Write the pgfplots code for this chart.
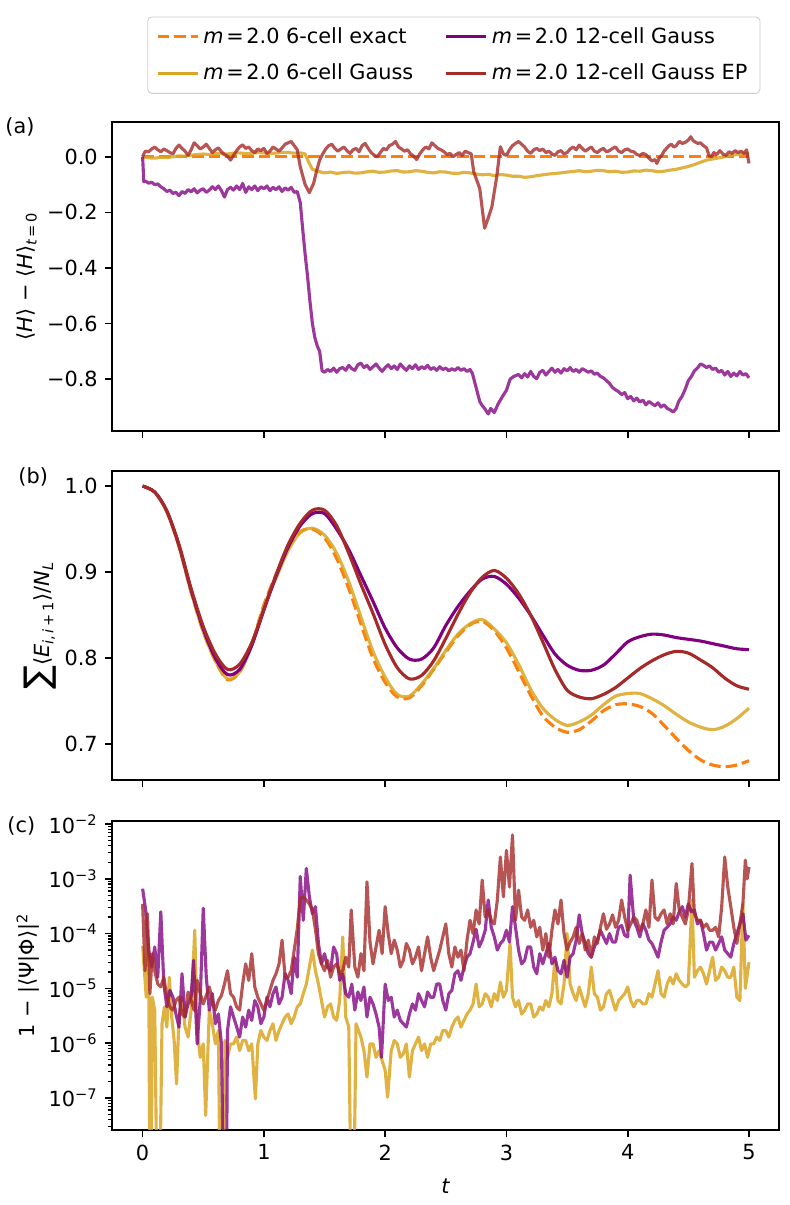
\documentclass[border=0pt]{standalone}
\usepackage{fontspec}
\setmainfont{DejaVu Sans}
\usepackage{pgfplots}
\pgfplotsset{compat=1.18}
\definecolor{cexact}{RGB}{255,127,14}
\definecolor{cgsix}{RGB}{218,165,32}
\definecolor{cgtw}{RGB}{128,0,128}
\definecolor{cep}{RGB}{165,42,42}
\newcommand{\mlab}{\textit{m}\kern1.3pt=\kern1.3pt2.0}
\pgfplotsset{
  panel/.style={
    scale only axis, width=320.16pt, height=148.3pt,
    xmin=-0.25, xmax=5.25,
    axis line style={line width=0.8pt},
    tick align=outside, xtick pos=bottom, ytick pos=left,
    major tick length=3.5pt, minor tick length=2pt,
    every major tick/.append style={line width=0.8pt, black},
    every minor tick/.append style={line width=0.6pt, black},
    tick label style={font=\fontsize{10}{12}\selectfont},
    label style={font=\fontsize{10}{12}\selectfont},
    xtick={0,1,2,3,4,5},
  },
  sexact/.style={color=cexact, line width=1.5pt, dash pattern=on 5.55pt off 2.4pt},
  sgsix/.style={color=cgsix, line width=1.5pt, draw opacity=0.85, line join=round},
  sgtw/.style={color=cgtw, line width=1.5pt, draw opacity=0.78, line join=round},
  sep/.style={color=cep, line width=1.5pt, draw opacity=0.8, line join=round},
}
\begin{document}
\begin{tikzpicture}
\useasboundingbox (0,0) rectangle (378.72pt,-578.4pt);
% ---------------- panel (a)
\begin{axis}[panel, at={(53.9pt,-58.42pt)}, anchor=north west,
  ymin=-0.985, ymax=0.126,
  xticklabels={},
  ytick={-0.8,-0.6,-0.4,-0.2,0},
  yticklabels={−0.8,−0.6,−0.4,−0.2,0.0},
  ylabel={⟨\textit{H}⟩ − ⟨\textit{H}⟩\textsubscript{\textit{t}\,=\,0}},
  ylabel style={at={(axis description cs:-0.128,0.5)}, anchor=center},
  legend columns=2,
  legend cell align=left,
  legend image code/.code={\draw[#1] (0pt,0pt) -- (19.2pt,0pt);},
  legend style={at={(0.512,1)}, anchor=south, yshift=13.4pt,
    draw=black!20, rounded corners=2pt, fill=white,
    font=\fontsize{10}{12}\selectfont, row sep=4.5pt,
    inner xsep=4pt, inner ysep=3pt,
    /tikz/every odd column/.append style={column sep=0pt},
    /tikz/every even column/.append style={column sep=13pt}},
]
\addplot[sexact, forget plot] coordinates {(0,0) (5,0)};
\addplot[sgsix, forget plot] coordinates {
(0,0) (0.05,-0.004) (0.1,-0.005) (0.15,-0.002) (0.2,-0.003) (0.25,0.0) (0.3,0.003) (0.35,0.002) (0.4,0.006) (0.45,0.008) (0.5,0.01) (0.55,0.008) (0.6,0.012) (0.65,0.011) (0.7,0.01) (0.75,0.013) (0.8,0.014) (0.85,0.011) (0.9,0.012) (0.95,0.015) (1.0,0.014) (1.05,0.012) (1.1,0.013) (1.15,0.016) (1.2,0.015) (1.25,0.013) (1.3,0.014) (1.34,0.01) (1.37,-0.02) (1.4,-0.045) (1.45,-0.053) (1.5,-0.058) (1.55,-0.055) (1.6,-0.06) (1.65,-0.057) (1.7,-0.055) (1.75,-0.059) (1.8,-0.058) (1.85,-0.054) (1.9,-0.052) (1.95,-0.056) (2.0,-0.055) (2.05,-0.051) (2.1,-0.05) (2.15,-0.055) (2.2,-0.054) (2.25,-0.05) (2.3,-0.052) (2.35,-0.056) (2.4,-0.058) (2.45,-0.054) (2.5,-0.055) (2.55,-0.059) (2.6,-0.06) (2.65,-0.056) (2.7,-0.058) (2.75,-0.062) (2.8,-0.065) (2.85,-0.063) (2.9,-0.068) (2.95,-0.064) (3.0,-0.066) (3.05,-0.07) (3.1,-0.07) (3.15,-0.074) (3.2,-0.072) (3.25,-0.068) (3.3,-0.065) (3.35,-0.062) (3.4,-0.06) (3.45,-0.058) (3.5,-0.055) (3.55,-0.053) (3.6,-0.05) (3.65,-0.054) (3.7,-0.052) (3.75,-0.049) (3.8,-0.05) (3.85,-0.054) (3.9,-0.052) (3.95,-0.056) (4.0,-0.055) (4.05,-0.051) (4.1,-0.052) (4.15,-0.048) (4.2,-0.05) (4.25,-0.054) (4.3,-0.052) (4.35,-0.048) (4.4,-0.045) (4.45,-0.04) (4.5,-0.035) (4.55,-0.028) (4.6,-0.02) (4.65,-0.012) (4.7,-0.008) (4.75,-0.004) (4.8,0.0) (4.85,0.005) (4.9,0.008) (4.95,0.01) (5.0,0.012)};
\addplot[sgtw, forget plot] coordinates {
(0,0) (0.01,-0.09) (0.025,-0.088) (0.05,-0.095) (0.075,-0.092) (0.1,-0.1) (0.125,-0.098) (0.15,-0.108) (0.175,-0.115) (0.2,-0.125) (0.225,-0.12) (0.25,-0.132) (0.275,-0.128) (0.3,-0.14) (0.325,-0.125) (0.35,-0.132) (0.375,-0.118) (0.4,-0.126) (0.425,-0.115) (0.45,-0.13) (0.475,-0.12) (0.5,-0.115) (0.525,-0.128) (0.55,-0.12) (0.575,-0.108) (0.6,-0.118) (0.625,-0.105) (0.65,-0.122) (0.675,-0.145) (0.7,-0.118) (0.725,-0.11) (0.75,-0.12) (0.775,-0.105) (0.8,-0.118) (0.825,-0.096) (0.85,-0.128) (0.875,-0.108) (0.9,-0.118) (0.925,-0.105) (0.95,-0.122) (0.975,-0.108) (1.0,-0.115) (1.025,-0.105) (1.05,-0.122) (1.075,-0.11) (1.1,-0.118) (1.125,-0.108) (1.15,-0.125) (1.175,-0.112) (1.2,-0.12) (1.225,-0.11) (1.25,-0.128) (1.275,-0.125) (1.30,-0.165) (1.32,-0.26) (1.34,-0.35) (1.36,-0.43) (1.38,-0.52) (1.40,-0.60) (1.42,-0.65) (1.44,-0.68) (1.46,-0.70) (1.48,-0.77) (1.5,-0.775) (1.525,-0.765) (1.55,-0.772) (1.575,-0.76) (1.6,-0.775) (1.625,-0.762) (1.65,-0.758) (1.675,-0.768) (1.7,-0.75) (1.725,-0.762) (1.75,-0.768) (1.775,-0.748) (1.8,-0.742) (1.825,-0.758) (1.85,-0.75) (1.875,-0.765) (1.9,-0.755) (1.925,-0.745) (1.95,-0.76) (1.975,-0.772) (2.0,-0.758) (2.025,-0.748) (2.05,-0.762) (2.075,-0.752) (2.1,-0.765) (2.125,-0.745) (2.15,-0.758) (2.175,-0.768) (2.2,-0.752) (2.225,-0.762) (2.25,-0.748) (2.275,-0.765) (2.3,-0.755) (2.325,-0.762) (2.35,-0.75) (2.375,-0.765) (2.4,-0.758) (2.425,-0.768) (2.45,-0.755) (2.475,-0.765) (2.5,-0.76) (2.525,-0.77) (2.55,-0.762) (2.575,-0.768) (2.6,-0.758) (2.625,-0.768) (2.65,-0.762) (2.675,-0.772) (2.7,-0.765) (2.72,-0.78) (2.75,-0.83) (2.78,-0.88) (2.8,-0.895) (2.82,-0.905) (2.85,-0.925) (2.87,-0.905) (2.9,-0.92) (2.93,-0.89) (2.95,-0.875) (2.97,-0.86) (3.0,-0.84) (3.03,-0.80) (3.06,-0.79) (3.1,-0.783) (3.125,-0.795) (3.15,-0.78) (3.175,-0.792) (3.2,-0.772) (3.225,-0.79) (3.25,-0.798) (3.275,-0.775) (3.3,-0.768) (3.325,-0.785) (3.35,-0.772) (3.375,-0.76) (3.4,-0.775) (3.425,-0.765) (3.45,-0.778) (3.475,-0.762) (3.5,-0.77) (3.525,-0.758) (3.55,-0.772) (3.575,-0.765) (3.6,-0.775) (3.625,-0.762) (3.65,-0.768) (3.675,-0.775) (3.7,-0.77) (3.725,-0.782) (3.75,-0.778) (3.775,-0.79) (3.8,-0.795) (3.825,-0.805) (3.85,-0.815) (3.875,-0.83) (3.9,-0.838) (3.925,-0.845) (3.95,-0.855) (3.975,-0.848) (4.0,-0.87) (4.025,-0.862) (4.05,-0.878) (4.075,-0.868) (4.1,-0.882) (4.125,-0.875) (4.15,-0.892) (4.175,-0.88) (4.2,-0.888) (4.225,-0.895) (4.25,-0.885) (4.275,-0.9) (4.3,-0.892) (4.325,-0.905) (4.35,-0.91) (4.375,-0.918) (4.4,-0.905) (4.42,-0.88) (4.45,-0.86) (4.475,-0.835) (4.5,-0.805) (4.525,-0.79) (4.55,-0.77) (4.575,-0.76) (4.6,-0.745) (4.625,-0.75) (4.65,-0.758) (4.675,-0.752) (4.7,-0.765) (4.725,-0.76) (4.75,-0.775) (4.775,-0.768) (4.8,-0.785) (4.825,-0.772) (4.85,-0.79) (4.875,-0.778) (4.9,-0.788) (4.925,-0.772) (4.95,-0.785) (4.975,-0.78) (5.0,-0.795)};
\addplot[sep, forget plot] coordinates {
(0,0) (0.015,0.015) (0.025,0.02) (0.05,0.018) (0.075,0.028) (0.1,0.035) (0.125,0.025) (0.15,0.018) (0.175,0.028) (0.2,0.022) (0.225,0.015) (0.25,0.01) (0.275,0.03) (0.3,0.042) (0.325,0.03) (0.35,0.02) (0.375,0.005) (0.4,0.025) (0.425,0.05) (0.45,0.04) (0.475,0.028) (0.5,0.035) (0.525,0.045) (0.55,0.03) (0.575,0.015) (0.6,0.025) (0.625,0.032) (0.65,0.018) (0.675,0.008) (0.7,0.002) (0.725,-0.012) (0.75,0.005) (0.775,0.022) (0.8,0.035) (0.825,0.043) (0.85,0.03) (0.875,0.035) (0.9,0.022) (0.925,0.015) (0.95,0.028) (0.975,0.022) (1.0,0.03) (1.025,0.012) (1.05,0.02) (1.075,0.035) (1.1,0.028) (1.125,0.02) (1.15,0.032) (1.175,0.045) (1.2,0.05) (1.225,0.055) (1.25,0.04) (1.275,0.025) (1.3,-0.036) (1.34,-0.10) (1.375,-0.129) (1.41,-0.096) (1.435,-0.05) (1.46,-0.012) (1.485,0.01) (1.51,0.028) (1.535,0.04) (1.56,0.045) (1.585,0.03) (1.61,0.02) (1.635,0.028) (1.66,0.035) (1.685,0.022) (1.71,0.012) (1.735,0.025) (1.76,0.03) (1.785,0.018) (1.81,0.04) (1.835,0.048) (1.86,0.03) (1.885,0.015) (1.91,0.005) (1.935,0.0) (1.96,0.015) (1.985,0.03) (2.01,0.025) (2.035,0.04) (2.06,0.045) (2.085,0.055) (2.11,0.035) (2.135,0.028) (2.16,0.02) (2.185,0.025) (2.21,0.01) (2.235,0.002) (2.26,-0.01) (2.285,0.01) (2.31,0.025) (2.335,0.035) (2.36,0.028) (2.385,0.05) (2.41,0.04) (2.435,0.03) (2.46,0.025) (2.485,0.018) (2.51,0.008) (2.535,0.012) (2.56,0.0) (2.585,0.008) (2.61,0.015) (2.635,0.005) (2.66,0.02) (2.685,0.015) (2.71,0.01) (2.73,-0.054) (2.78,-0.114) (2.82,-0.257) (2.85,-0.22) (2.88,-0.18) (2.92,-0.072) (2.95,0.036) (2.975,0.01) (3.0,0.005) (3.025,0.025) (3.05,0.04) (3.075,0.048) (3.1,0.055) (3.125,0.045) (3.15,0.035) (3.175,0.02) (3.2,0.012) (3.225,0.025) (3.25,0.03) (3.275,0.022) (3.3,0.028) (3.325,0.015) (3.35,0.02) (3.375,0.01) (3.4,0.005) (3.425,0.018) (3.45,0.022) (3.475,0.01) (3.5,0.015) (3.525,0.028) (3.55,0.035) (3.575,0.025) (3.6,0.042) (3.625,0.03) (3.65,0.02) (3.675,0.028) (3.7,0.035) (3.725,0.02) (3.75,0.015) (3.775,0.025) (3.8,0.03) (3.825,0.018) (3.85,0.022) (3.875,0.03) (3.9,0.035) (3.925,0.02) (3.95,0.015) (3.975,0.025) (4.0,0.028) (4.025,0.02) (4.05,0.018) (4.075,0.008) (4.1,0.005) (4.125,0.012) (4.15,0.008) (4.175,-0.005) (4.2,-0.015) (4.225,-0.01) (4.24,-0.024) (4.26,-0.005) (4.28,0.005) (4.3,0.02) (4.32,0.03) (4.34,0.04) (4.36,0.045) (4.38,0.035) (4.4,0.04) (4.425,0.055) (4.45,0.048) (4.475,0.052) (4.5,0.06) (4.52,0.072) (4.54,0.058) (4.56,0.052) (4.58,0.048) (4.6,0.05) (4.625,0.04) (4.65,0.032) (4.67,0.005) (4.69,0.0) (4.71,0.015) (4.735,0.008) (4.76,0.022) (4.785,0.01) (4.81,0.005) (4.835,0.018) (4.86,0.012) (4.885,0.022) (4.91,0.015) (4.935,0.02) (4.96,0.012) (4.98,0.025) (5.0,-0.024)};
\addlegendimage{sexact}
\addlegendentry{\mlab{} 6-cell exact}
\addlegendimage{sgtw, draw opacity=1}
\addlegendentry{\mlab{} 12-cell Gauss}
\addlegendimage{sgsix, draw opacity=1}
\addlegendentry{\mlab{} 6-cell Gauss}
\addlegendimage{sep, draw opacity=1}
\addlegendentry{\mlab{} 12-cell Gauss EP}
\end{axis}
% ---------------- panel (b)
\begin{axis}[panel, at={(53.9pt,-226.08pt)}, anchor=north west,
  ymin=0.6586, ymax=1.0175,
  xticklabels={},
  ytick={0.7,0.8,0.9,1.0},
  yticklabels={0.7,0.8,0.9,1.0},
  ylabel={{\fontsize{17}{17}\selectfont ∑}⟨\textit{E}\textsubscript{\textit{i},\,\textit{i}\,+\,1}⟩/\textit{N}\textsubscript{\textit{L}}},
  ylabel style={at={(axis description cs:-0.108,0.5)}, anchor=center},
]
\addplot[sexact, smooth] coordinates {
(0,1.0) (0.1,0.993) (0.2,0.970) (0.3,0.930) (0.4,0.877) (0.5,0.831) (0.6,0.797) (0.7,0.775) (0.8,0.784) (0.9,0.816) (1.0,0.862) (1.1,0.897) (1.2,0.928) (1.3,0.947) (1.4,0.950) (1.5,0.940) (1.6,0.916) (1.7,0.881) (1.8,0.840) (1.9,0.800) (2.0,0.772) (2.1,0.755) (2.2,0.754) (2.3,0.768) (2.4,0.787) (2.5,0.807) (2.6,0.826) (2.7,0.839) (2.8,0.843) (2.9,0.832) (3.0,0.812) (3.1,0.785) (3.2,0.757) (3.3,0.733) (3.4,0.720) (3.5,0.714) (3.6,0.717) (3.7,0.727) (3.8,0.739) (3.9,0.746) (4.0,0.747) (4.1,0.744) (4.2,0.736) (4.3,0.722) (4.4,0.707) (4.5,0.693) (4.6,0.682) (4.7,0.676) (4.8,0.674) (4.9,0.676) (5.0,0.681)};
\addplot[sgsix, smooth] coordinates {
(0,1.0) (0.1,0.993) (0.2,0.970) (0.3,0.930) (0.4,0.877) (0.5,0.831) (0.6,0.797) (0.7,0.776) (0.8,0.784) (0.9,0.815) (1.0,0.860) (1.1,0.893) (1.2,0.925) (1.3,0.946) (1.4,0.951) (1.5,0.943) (1.6,0.922) (1.7,0.889) (1.8,0.848) (1.9,0.808) (2.0,0.778) (2.1,0.758) (2.2,0.756) (2.3,0.770) (2.4,0.788) (2.5,0.809) (2.6,0.828) (2.7,0.840) (2.8,0.845) (2.9,0.834) (3.0,0.818) (3.1,0.793) (3.2,0.764) (3.3,0.742) (3.4,0.729) (3.5,0.722) (3.6,0.726) (3.7,0.734) (3.8,0.746) (3.9,0.756) (4.0,0.759) (4.1,0.759) (4.2,0.753) (4.3,0.745) (4.4,0.735) (4.5,0.726) (4.6,0.720) (4.7,0.717) (4.8,0.721) (4.9,0.730) (5.0,0.742)};
\addplot[sgtw, draw opacity=1, smooth] coordinates {
(0,1.0) (0.1,0.993) (0.2,0.971) (0.3,0.931) (0.4,0.879) (0.5,0.834) (0.6,0.800) (0.7,0.781) (0.8,0.787) (0.9,0.815) (1.0,0.856) (1.1,0.895) (1.2,0.929) (1.3,0.954) (1.4,0.968) (1.5,0.968) (1.6,0.950) (1.7,0.926) (1.8,0.896) (1.9,0.866) (2.0,0.835) (2.1,0.812) (2.2,0.799) (2.3,0.799) (2.4,0.812) (2.5,0.838) (2.6,0.860) (2.7,0.878) (2.8,0.892) (2.9,0.895) (3.0,0.886) (3.1,0.870) (3.2,0.850) (3.3,0.827) (3.4,0.805) (3.5,0.792) (3.6,0.786) (3.7,0.786) (3.8,0.792) (3.9,0.805) (4.0,0.819) (4.1,0.825) (4.2,0.828) (4.3,0.827) (4.4,0.824) (4.5,0.822) (4.6,0.820) (4.7,0.817) (4.8,0.814) (4.9,0.811) (5.0,0.810)};
\addplot[sep, draw opacity=1, smooth] coordinates {
(0,1.0) (0.1,0.993) (0.2,0.971) (0.3,0.932) (0.4,0.881) (0.5,0.837) (0.6,0.805) (0.7,0.787) (0.8,0.793) (0.9,0.818) (1.0,0.857) (1.1,0.897) (1.2,0.932) (1.3,0.957) (1.4,0.972) (1.5,0.972) (1.6,0.954) (1.7,0.922) (1.8,0.886) (1.9,0.852) (2.0,0.816) (2.1,0.789) (2.2,0.776) (2.3,0.780) (2.4,0.797) (2.5,0.823) (2.6,0.851) (2.7,0.876) (2.8,0.894) (2.9,0.902) (3.0,0.893) (3.1,0.875) (3.2,0.850) (3.3,0.819) (3.4,0.787) (3.5,0.763) (3.6,0.755) (3.7,0.753) (3.8,0.758) (3.9,0.766) (4.0,0.777) (4.1,0.788) (4.2,0.797) (4.3,0.804) (4.4,0.808) (4.5,0.806) (4.6,0.798) (4.7,0.789) (4.8,0.777) (4.9,0.768) (5.0,0.764)};
\end{axis}
% ---------------- panel (c)
\begin{axis}[panel, at={(53.9pt,-394.08pt)}, anchor=north west,
  ymode=log, ymin=2.6e-8, ymax=1.135e-2,
  xticklabels={0,1,2,3,4,5},
  xlabel={\textit{t}},
  xlabel style={yshift=-2pt},
  ytick={1e-7,1e-6,1e-5,1e-4,1e-3,1e-2},
  yticklabels={10\textsuperscript{−7},10\textsuperscript{−6},10\textsuperscript{−5},10\textsuperscript{−4},10\textsuperscript{−3},10\textsuperscript{−2}},
  minor ytick={3e-8,4e-8,5e-8,6e-8,7e-8,8e-8,9e-8,2e-7,3e-7,4e-7,5e-7,6e-7,7e-7,8e-7,9e-7,2e-6,3e-6,4e-6,5e-6,6e-6,7e-6,8e-6,9e-6,2e-5,3e-5,4e-5,5e-5,6e-5,7e-5,8e-5,9e-5,2e-4,3e-4,4e-4,5e-4,6e-4,7e-4,8e-4,9e-4,2e-3,3e-3,4e-3,5e-3,6e-3,7e-3,8e-3,9e-3},
  ylabel={1 − |⟨Ψ|Φ⟩|\textsuperscript{2}},
  ylabel style={at={(axis description cs:-0.126,0.5)}, anchor=center},
]
\addplot[sgsix] coordinates {
(0.00,6.0e-5) (0.03,6.9e-6) (0.05,6.6e-5) (0.06,1e-9) (0.07,1e-9) (0.08,6.9e-6) (0.10,4.0e-6) (0.12,1e-9) (0.14,1e-9) (0.16,2.26e-6) (0.18,4.6e-6) (0.20,1.96e-6) (0.22,1.6e-5) (0.24,3.0e-6) (0.26,1.12e-6) (0.28,1.8e-7) (0.30,3.0e-6) (0.325,6.9e-6) (0.35,1.96e-6) (0.375,1.29e-6) (0.40,4.0e-6) (0.43,1.15e-4) (0.45,1.96e-6) (0.475,5.5e-7) (0.50,9.7e-7) (0.52,4.8e-8) (0.55,4.0e-6) (0.575,2.26e-6) (0.60,9.7e-7) (0.625,1.7e-6) (0.64,1e-9) (0.66,1e-9) (0.68,1.12e-6) (0.70,5.5e-7) (0.725,9.7e-7) (0.75,9.7e-7) (0.775,1.29e-6) (0.80,7.3e-7) (0.825,1.12e-6) (0.85,1.12e-6) (0.875,7.3e-7) (0.90,9.7e-7) (0.93,9.6e-8) (0.95,9.7e-7) (0.975,1.7e-6) (1.00,1.29e-6) (1.025,1.12e-6) (1.05,1.7e-6) (1.075,2.26e-6) (1.10,1.12e-6) (1.125,1.7e-6) (1.15,2.26e-6) (1.175,3.0e-6) (1.20,3.4e-6) (1.225,2.26e-6) (1.25,3.0e-6) (1.275,4.6e-6) (1.30,5.2e-6) (1.325,8.0e-6) (1.35,1.2e-5) (1.375,2.45e-5) (1.40,5.0e-5) (1.425,2.1e-5) (1.45,1.2e-5) (1.475,6.0e-6) (1.50,3.0e-6) (1.525,4.6e-6) (1.55,5.2e-6) (1.575,3.0e-6) (1.60,2.6e-6) (1.625,6.0e-6) (1.65,8.7e-5) (1.675,3.0e-6) (1.70,1.96e-6) (1.72,1e-9) (1.74,1e-9) (1.76,2.26e-6) (1.78,1.7e-6) (1.80,1.29e-6) (1.825,7.3e-7) (1.85,2.4e-7) (1.875,9.7e-7) (1.90,9.7e-7) (1.925,5.5e-7) (1.95,7.3e-7) (1.975,4.8e-7) (2.00,3.2e-7) (2.02,1.03e-7) (2.05,7.3e-7) (2.075,1.12e-6) (2.10,9.7e-7) (2.125,5.5e-7) (2.15,6.4e-7) (2.175,9.7e-7) (2.20,2.4e-7) (2.225,7.3e-7) (2.25,9.7e-7) (2.275,1.29e-6) (2.30,7.3e-7) (2.325,9.7e-7) (2.35,5.5e-7) (2.375,9.7e-7) (2.40,9.7e-7) (2.425,1.29e-6) (2.45,1.12e-6) (2.475,1.7e-6) (2.50,1.7e-6) (2.525,1.29e-6) (2.55,1.96e-6) (2.575,2.6e-6) (2.60,3.0e-6) (2.625,1.96e-6) (2.65,2.6e-6) (2.675,3.4e-6) (2.70,4.0e-6) (2.725,5.2e-6) (2.75,1.2e-5) (2.775,4.6e-6) (2.80,5.2e-6) (2.825,8.0e-6) (2.85,6.9e-6) (2.875,4.6e-6) (2.90,8.0e-6) (2.925,6.0e-6) (2.95,1.3e-5) (2.975,6.9e-6) (3.00,9.2e-6) (3.03,6.6e-5) (3.05,6.9e-6) (3.075,4.6e-6) (3.10,6.0e-6) (3.125,3.4e-6) (3.15,4.0e-6) (3.175,5.2e-6) (3.20,5.2e-6) (3.225,3.0e-6) (3.25,3.4e-6) (3.275,4.6e-6) (3.30,4.0e-6) (3.325,6.0e-6) (3.35,4.6e-6) (3.375,8.0e-6) (3.40,3.25e-5) (3.425,6.0e-6) (3.45,5.2e-6) (3.475,1.2e-5) (3.50,1.0e-4) (3.525,1.2e-5) (3.55,8.0e-6) (3.575,6.0e-6) (3.60,1.06e-5) (3.625,6.9e-6) (3.65,4.6e-6) (3.675,8.0e-6) (3.70,2.45e-5) (3.725,8.0e-6) (3.75,6.9e-6) (3.775,4.0e-6) (3.80,4.6e-6) (3.825,8.0e-6) (3.85,9.2e-6) (3.875,6.0e-6) (3.90,4.0e-6) (3.925,6.0e-6) (3.95,6.9e-6) (3.975,8.0e-6) (4.00,1.06e-5) (4.025,6.0e-6) (4.05,4.6e-6) (4.075,6.0e-6) (4.10,6.0e-6) (4.125,5.2e-6) (4.15,5.2e-6) (4.175,8.0e-6) (4.20,6.9e-6) (4.225,1.2e-5) (4.25,2.1e-5) (4.275,8.0e-6) (4.30,6.9e-6) (4.325,1.2e-5) (4.35,1.6e-5) (4.375,1.2e-5) (4.40,1.85e-5) (4.425,1.4e-5) (4.45,1.2e-5) (4.475,1.06e-5) (4.50,1.2e-5) (4.53,4.1e-4) (4.55,1.6e-5) (4.575,2.1e-5) (4.60,2.45e-5) (4.625,1.85e-5) (4.65,1.2e-5) (4.675,2.1e-5) (4.70,3.7e-5) (4.725,1.4e-5) (4.75,1.6e-5) (4.775,2.45e-5) (4.80,2.1e-5) (4.825,1.6e-5) (4.85,1.6e-5) (4.875,2.45e-5) (4.90,6.9e-6) (4.925,6.0e-6) (4.95,3.5e-4) (4.97,1.0e-5) (5.00,3.0e-5)};
\addplot[sgtw] coordinates {
(0.00,6.6e-4) (0.025,2.7e-4) (0.05,5.0e-5) (0.075,2.45e-5) (0.10,5.7e-5) (0.125,1.6e-5) (0.15,2.5e-4) (0.175,1.2e-5) (0.20,4.6e-6) (0.225,9.2e-6) (0.25,6.9e-6) (0.275,3.4e-6) (0.30,1.96e-6) (0.325,1.85e-5) (0.35,3.0e-6) (0.375,5.2e-6) (0.40,6.9e-6) (0.42,3.25e-5) (0.45,9.7e-7) (0.475,6.0e-6) (0.50,2.9e-4) (0.525,1.6e-5) (0.55,4.0e-6) (0.575,8.0e-6) (0.60,2.26e-6) (0.625,3.4e-6) (0.65,9.7e-7) (0.67,1e-9) (0.69,1e-9) (0.70,1.7e-6) (0.725,4.6e-6) (0.75,3.0e-6) (0.775,2.0e-6) (0.80,1.29e-6) (0.825,3.0e-6) (0.85,1.96e-6) (0.875,4.0e-6) (0.90,2.6e-6) (0.925,6.0e-6) (0.95,4.6e-6) (0.975,2.26e-6) (1.00,3.0e-6) (1.025,6.9e-6) (1.05,4.6e-6) (1.075,8.0e-6) (1.10,1.06e-5) (1.125,5.2e-6) (1.15,6.9e-6) (1.175,1.85e-5) (1.20,1.4e-5) (1.225,8.0e-6) (1.25,3.7e-5) (1.275,1.6e-5) (1.30,1.1e-3) (1.325,1.75e-4) (1.35,1.55e-3) (1.375,4.7e-4) (1.40,2.3e-4) (1.425,3.1e-4) (1.45,6.6e-5) (1.475,2.8e-5) (1.50,4.3e-5) (1.525,2.45e-5) (1.55,2.1e-5) (1.575,5.7e-5) (1.60,4.3e-5) (1.625,1.4e-5) (1.65,1.85e-5) (1.675,8.0e-6) (1.70,6.9e-6) (1.725,1.2e-5) (1.75,4.0e-6) (1.775,8.6e-6) (1.80,6.0e-6) (1.825,1.06e-5) (1.85,3.0e-6) (1.875,6.9e-6) (1.90,5.2e-6) (1.925,3.4e-6) (1.95,1.96e-6) (1.97,5.5e-7) (2.00,1.2e-5) (2.025,6.0e-6) (2.05,6.9e-6) (2.075,3.0e-6) (2.10,4.0e-6) (2.125,2.6e-6) (2.15,2.26e-6) (2.175,1.96e-6) (2.20,3.4e-6) (2.225,5.2e-6) (2.25,4.0e-6) (2.275,8.0e-6) (2.30,6.0e-6) (2.325,4.6e-6) (2.35,8.6e-6) (2.375,6.9e-6) (2.40,6.9e-6) (2.425,1.2e-5) (2.45,1.2e-5) (2.475,6.0e-6) (2.50,4.0e-6) (2.525,8.0e-6) (2.55,9.2e-6) (2.575,1.85e-5) (2.60,2.1e-5) (2.625,1.4e-5) (2.65,2.45e-5) (2.675,3.7e-5) (2.70,4.3e-5) (2.725,7.0e-5) (2.75,1.2e-4) (2.775,5.7e-5) (2.80,7.6e-5) (2.825,1.15e-4) (2.85,4.1e-4) (2.875,1.3e-4) (2.90,8.7e-5) (2.925,5.0e-5) (2.95,6.6e-5) (2.975,7.6e-5) (3.00,1.15e-4) (3.025,7.0e-5) (3.05,3.1e-4) (3.075,1.3e-4) (3.10,5.0e-5) (3.125,2.8e-5) (3.15,3.25e-5) (3.175,5.7e-5) (3.20,5.7e-5) (3.225,2.45e-5) (3.25,1.85e-5) (3.275,4.3e-5) (3.30,2.8e-5) (3.325,4.3e-5) (3.35,6.6e-5) (3.375,2.8e-5) (3.40,3.7e-5) (3.425,2.1e-5) (3.45,1.85e-5) (3.475,3.25e-5) (3.50,1.6e-5) (3.525,3.7e-5) (3.55,4.3e-5) (3.575,7.6e-5) (3.60,2.2e-4) (3.625,1.0e-4) (3.65,6.6e-5) (3.675,4.3e-5) (3.70,3.7e-5) (3.725,5.7e-5) (3.75,7.6e-5) (3.775,1.15e-4) (3.80,8.7e-5) (3.825,6.6e-5) (3.85,1.0e-4) (3.875,7.0e-5) (3.90,7.0e-5) (3.925,1.3e-4) (3.95,1.4e-4) (3.975,9.3e-5) (4.00,8.7e-5) (4.02,1.17e-3) (4.05,1.75e-4) (4.075,1.3e-4) (4.10,8.7e-5) (4.125,1.5e-4) (4.15,1.15e-4) (4.175,7.6e-5) (4.20,6.6e-5) (4.225,5.0e-5) (4.25,3.7e-5) (4.275,7.0e-5) (4.30,1.15e-4) (4.325,1.3e-4) (4.35,1.5e-4) (4.375,2.0e-4) (4.40,1.75e-4) (4.425,2.5e-4) (4.45,3.1e-4) (4.475,2.0e-4) (4.50,3.5e-4) (4.525,2.5e-4) (4.55,2.7e-4) (4.575,1.5e-4) (4.60,1.75e-4) (4.625,1.0e-4) (4.65,5.0e-5) (4.675,7.0e-5) (4.70,7.0e-5) (4.725,5.0e-5) (4.75,6.6e-5) (4.775,8.7e-5) (4.80,5.0e-5) (4.825,4.3e-5) (4.85,3.7e-5) (4.875,6.6e-5) (4.90,1.0e-4) (4.925,1.5e-4) (4.95,2.3e-4) (4.975,7.6e-5) (5.00,9.3e-5)};
\addplot[sep] coordinates {
(0.00,3.5e-4) (0.02,2.1e-5) (0.04,2.3e-4) (0.06,8.0e-6) (0.08,4.3e-5) (0.10,2.1e-5) (0.125,1.2e-5) (0.15,1.06e-5) (0.175,1.6e-5) (0.20,6.9e-6) (0.225,4.6e-6) (0.25,4.0e-6) (0.275,6.0e-6) (0.30,6.9e-6) (0.325,3.4e-6) (0.35,3.0e-6) (0.375,8.6e-6) (0.40,6.0e-6) (0.425,4.0e-6) (0.45,1.4e-5) (0.475,8.0e-6) (0.50,5.2e-6) (0.525,7.4e-6) (0.55,1.06e-5) (0.575,6.0e-6) (0.60,4.0e-6) (0.625,6.0e-6) (0.65,7.4e-6) (0.675,1.2e-5) (0.70,2.1e-5) (0.725,8.0e-6) (0.75,6.9e-6) (0.775,4.6e-6) (0.80,4.0e-6) (0.825,1.2e-5) (0.85,2.8e-5) (0.875,1.4e-5) (0.90,4.3e-5) (0.925,1.06e-5) (0.95,6.9e-6) (0.975,5.2e-6) (1.00,4.0e-6) (1.025,6.0e-6) (1.05,9.2e-6) (1.075,1.4e-5) (1.10,1.85e-5) (1.125,2.8e-5) (1.15,7.6e-5) (1.175,1.6e-5) (1.20,1.6e-5) (1.225,2.1e-5) (1.25,5.0e-5) (1.275,1.2e-4) (1.30,4.4e-4) (1.325,4.7e-4) (1.35,4.1e-4) (1.375,3.5e-4) (1.40,2.7e-4) (1.425,1.2e-4) (1.45,4.3e-5) (1.475,2.8e-5) (1.50,2.1e-5) (1.525,3.25e-5) (1.55,1.6e-5) (1.575,2.45e-5) (1.60,2.8e-5) (1.625,1.85e-5) (1.65,2.1e-5) (1.675,3.7e-5) (1.70,2.45e-5) (1.72,2.7e-4) (1.75,2.45e-5) (1.775,1.6e-5) (1.80,4.3e-5) (1.825,2.1e-5) (1.85,8.8e-4) (1.875,7.0e-5) (1.90,2.8e-5) (1.925,5.7e-5) (1.95,1.15e-4) (1.975,4.3e-5) (2.00,3.1e-4) (2.025,1.0e-4) (2.05,4.3e-5) (2.075,7.6e-5) (2.10,5.0e-5) (2.125,2.45e-5) (2.15,3.25e-5) (2.175,6.6e-5) (2.20,5.0e-5) (2.225,2.8e-5) (2.25,3.7e-5) (2.275,5.7e-5) (2.30,2.1e-5) (2.325,4.3e-5) (2.35,8.7e-5) (2.375,3.7e-5) (2.40,2.1e-5) (2.425,3.25e-5) (2.45,5.0e-5) (2.475,8.7e-5) (2.50,1.5e-4) (2.525,4.3e-5) (2.55,2.45e-5) (2.575,5.7e-5) (2.60,3.7e-5) (2.625,5.0e-5) (2.65,2.1e-5) (2.675,7.6e-5) (2.70,1.75e-4) (2.725,1.0e-4) (2.75,2.7e-4) (2.775,1.5e-4) (2.80,9.5e-4) (2.825,2.0e-4) (2.85,2.7e-4) (2.875,1.75e-4) (2.90,1.5e-4) (2.925,4.1e-4) (2.95,2.5e-3) (2.975,4.7e-4) (3.00,3.3e-3) (3.025,7.1e-4) (3.05,6.3e-3) (3.075,1.75e-4) (3.10,6.2e-4) (3.125,2.0e-4) (3.15,1.75e-4) (3.175,2.7e-4) (3.20,1.3e-4) (3.225,1.75e-4) (3.25,8.7e-5) (3.275,1.3e-4) (3.30,5.0e-5) (3.325,1.0e-4) (3.35,3.7e-5) (3.375,1.15e-4) (3.40,2.7e-4) (3.425,1.5e-4) (3.45,4.1e-4) (3.475,1.0e-4) (3.50,5.0e-5) (3.525,7.0e-5) (3.55,8.7e-5) (3.575,1.3e-4) (3.60,6.6e-5) (3.625,1.0e-4) (3.65,5.0e-5) (3.675,7.6e-5) (3.70,3.7e-5) (3.725,8.7e-5) (3.75,6.6e-5) (3.775,1.3e-4) (3.80,2.3e-4) (3.825,1.2e-4) (3.85,1.5e-4) (3.875,2.2e-4) (3.90,1.3e-4) (3.925,1.75e-4) (3.95,4.1e-4) (3.975,2.0e-4) (4.00,1.15e-4) (4.025,1.5e-4) (4.05,2.0e-4) (4.075,1.75e-4) (4.10,1.15e-4) (4.125,1.5e-4) (4.15,2.7e-4) (4.175,1.3e-4) (4.20,9.5e-4) (4.225,2.0e-4) (4.25,1.75e-4) (4.275,2.3e-4) (4.30,2.7e-4) (4.325,1.5e-4) (4.35,2.3e-4) (4.375,1.5e-4) (4.40,8.2e-4) (4.425,2.7e-4) (4.45,2.0e-4) (4.475,1.5e-4) (4.50,2.7e-4) (4.53,1.9e-3) (4.55,2.3e-4) (4.575,1.75e-4) (4.60,1.75e-4) (4.625,1.3e-4) (4.65,1.5e-4) (4.675,1.15e-4) (4.70,1.15e-4) (4.725,1.3e-4) (4.75,8.7e-5) (4.775,3.1e-4) (4.80,2.5e-3) (4.825,7.1e-4) (4.85,3.1e-4) (4.875,1.3e-4) (4.90,6.6e-5) (4.925,1.5e-4) (4.95,3.5e-4) (4.97,2.2e-3) (4.985,1.0e-3) (5.00,1.65e-3)};
\end{axis}
\node[anchor=base west, inner sep=0pt, font=\fontsize{10}{12}\selectfont] at (2.4pt,-64.3pt) {(a)};
\node[anchor=base west, inner sep=0pt, font=\fontsize{10}{12}\selectfont] at (8.64pt,-232.3pt) {(b)};
\node[anchor=base west, inner sep=0pt, font=\fontsize{10}{12}\selectfont] at (3.36pt,-399.4pt) {(c)};
\end{tikzpicture}
\end{document}
